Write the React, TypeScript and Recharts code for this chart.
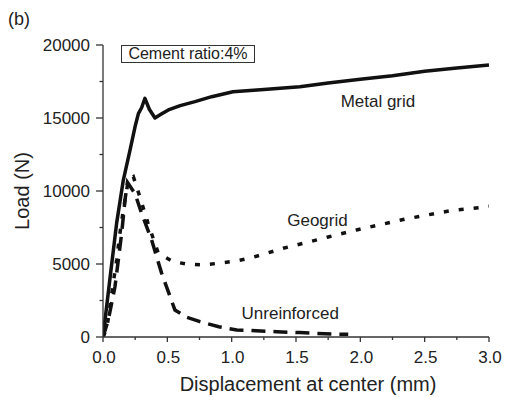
import { LineChart, Line, XAxis, YAxis, ReferenceDot } from "recharts";

// Metal grid (solid)
const metalX = [0, 0.05, 0.106, 0.158, 0.21, 0.249, 0.275, 0.3, 0.326, 0.36, 0.404, 0.45, 0.508, 0.6, 0.715, 0.845, 1.01, 1.25, 1.53, 1.75, 2.0, 2.25, 2.5, 2.75, 3.0];
const metalY = [0, 3700, 7800, 10750, 12800, 14400, 15300, 15700, 16350, 15600, 15000, 15250, 15550, 15850, 16120, 16460, 16800, 16950, 17140, 17400, 17650, 17900, 18200, 18420, 18630];

// Geogrid (dotted)
const geoX = [0, 0.03, 0.054, 0.08, 0.106, 0.13, 0.158, 0.197, 0.236, 0.29, 0.35, 0.43, 0.546, 0.65, 0.78, 1.03, 1.14, 1.4, 1.505, 1.75, 1.97, 2.35, 2.7, 2.955, 3.0];
const geoY = [0, 600, 2075, 3700, 5270, 7000, 8700, 10750, 10980, 9500, 7790, 5730, 5160, 5000, 4930, 5200, 5390, 6075, 6300, 6850, 7330, 8080, 8650, 8880, 8950];

// Unreinforced (dashed)
const unreX = [0, 0.041, 0.093, 0.145, 0.171, 0.19, 0.25, 0.3, 0.378, 0.456, 0.559, 0.65, 0.754, 0.9, 1.04, 1.14, 1.35, 1.53, 1.79, 1.906];
const unreY = [0, 1160, 3440, 7100, 9380, 10600, 9800, 8470, 6640, 4360, 1850, 1350, 1050, 700, 480, 450, 360, 300, 200, 180];

const xTicks = [0, 0.25, 0.5, 0.75, 1, 1.25, 1.5, 1.75, 2, 2.25, 2.5, 2.75, 3];
const yTicks = [0, 2500, 5000, 7500, 10000, 12500, 15000, 17500, 20000];

const toPoints = (xs: number[], ys: number[]) => xs.map((x, i) => ({ x, y: ys[i] }));

const FONT = '"Liberation Sans", Arial, Helvetica, sans-serif';
const ink = "#111";
const textColor = "#222";
const axisColor = "#333";

function XTick({ x, y, payload }: any) {
  const v = payload.value as number;
  const major = Math.abs(v * 2 - Math.round(v * 2)) < 1e-6;
  return (
    <g>
      <line x1={x} x2={x} y1={y} y2={y + (major ? 5 : 3)} stroke={axisColor} strokeWidth={1.3} />
      {major && (
        <text x={x + 1} y={y + 26} textAnchor="middle" fontSize={17} fontFamily={FONT} fill={textColor}>
          {v.toFixed(1)}
        </text>
      )}
    </g>
  );
}

function YTick({ x, y, payload }: any) {
  const v = payload.value as number;
  const major = v % 5000 === 0;
  return (
    <g>
      <line x1={x} x2={x - (major ? 7 : 3.5)} y1={y} y2={y} stroke={axisColor} strokeWidth={1.3} />
      {major && (
        <text x={x - 13} y={y} dy="0.36em" textAnchor="end" fontSize={17} fontFamily={FONT} fill={textColor}>
          {v}
        </text>
      )}
    </g>
  );
}

function lineLabel(text: string) {
  return ({ viewBox }: any) => (
    <text
      x={viewBox.x + viewBox.width / 2}
      y={viewBox.y + viewBox.height / 2}
      dy="0.35em"
      textAnchor="middle"
      fontSize={17}
      fontFamily={FONT}
      fill={textColor}
    >
      {text}
    </text>
  );
}

export default function App() {
  return (
    <div style={{ position: "absolute", left: 0, top: 0, width: 509, height: 397, background: "#fff" }}>
      <div style={{ position: "absolute", left: 8, top: 9, fontSize: 18, fontFamily: FONT, color: textColor }}>(b)</div>
      <div
        style={{
          position: "absolute",
          left: 121,
          top: 45,
          width: 132,
          height: 16,
          border: "1px solid #333",
          fontSize: 16,
          lineHeight: "16px",
          fontFamily: FONT,
          color: textColor,
          textAlign: "center",
          boxSizing: "content-box",
        }}
      >
        Cement ratio:4%
      </div>
      <LineChart width={509} height={397} margin={{ top: 45, right: 20, bottom: 0, left: 0 }}>
        <XAxis
          dataKey="x"
          type="number"
          domain={[0, 3]}
          ticks={xTicks}
          interval={0}
          height={60}
          tickSize={0}
          tickMargin={0}
          tickLine={false}
          tick={<XTick />}
          axisLine={{ stroke: axisColor, strokeWidth: 1.3 }}
          allowDataOverflow
          label={({ viewBox }: any) => (
            <text
              x={viewBox.x + viewBox.width / 2 + 12}
              y={391}
              textAnchor="middle"
              fontSize={20}
              fontFamily={FONT}
              fill={textColor}
            >
              Displacement at center (mm)
            </text>
          )}
        />
        <YAxis
          dataKey="y"
          type="number"
          domain={[0, 20000]}
          ticks={yTicks}
          interval={0}
          width={103}
          tickSize={0}
          tickMargin={0}
          tickLine={false}
          tick={<YTick />}
          axisLine={{ stroke: axisColor, strokeWidth: 1.3 }}
          allowDataOverflow
          label={({ viewBox }: any) => {
            const cx = 21.5;
            const cy = viewBox.y + viewBox.height / 2;
            return (
              <text
                x={cx}
                y={cy}
                dy="0.35em"
                transform={`rotate(-90 ${cx} ${cy})`}
                textAnchor="middle"
                fontSize={20}
                fontFamily={FONT}
                fill={textColor}
              >
                Load (N)
              </text>
            );
          }}
        />
        <Line
          data={toPoints(metalX, metalY)}
          dataKey="y"
          type="linear"
          stroke={ink}
          strokeWidth={3.5}
          strokeLinejoin="round"
          dot={false}
          activeDot={false}
          isAnimationActive={false}
        />
        <Line
          data={toPoints(geoX, geoY)}
          dataKey="y"
          type="linear"
          stroke={ink}
          strokeWidth={3.5}
          strokeDasharray="5 10"
          dot={false}
          activeDot={false}
          isAnimationActive={false}
        />
        <Line
          data={toPoints(unreX, unreY)}
          dataKey="y"
          type="linear"
          stroke={ink}
          strokeWidth={3.5}
          strokeDasharray="14 8"
          dot={false}
          activeDot={false}
          isAnimationActive={false}
        />
        <ReferenceDot x={2.137} y={16160} r={0} stroke="none" label={lineLabel("Metal grid")} />
        <ReferenceDot x={1.667} y={8010} r={0} stroke="none" label={lineLabel("Geogrid")} />
        <ReferenceDot x={1.455} y={1620} r={0} stroke="none" label={lineLabel("Unreinforced")} />
      </LineChart>
    </div>
  );
}
